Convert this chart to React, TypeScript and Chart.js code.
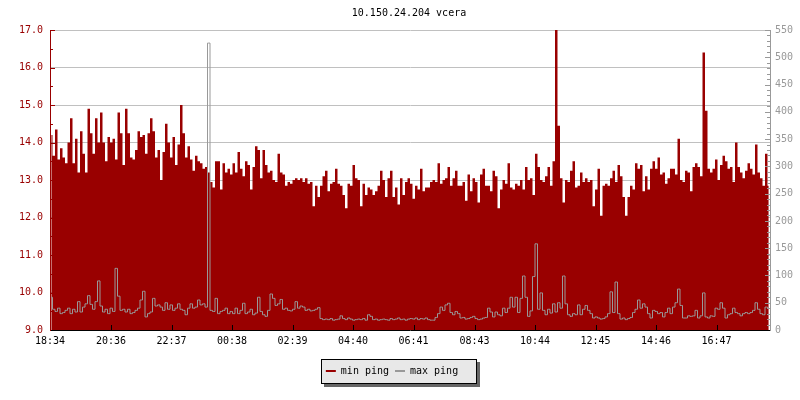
import { useEffect, useRef } from 'react';
import { Chart, registerables } from 'chart.js';

Chart.register(...registerables);

const chartTitle = '10.150.24.204 vcera';
const seriesNames = ['min ping', 'max ping'];
const tickLabels = ['18:34', '20:36', '22:37', '00:38', '02:39', '04:40', '06:41', '08:43', '10:44', '12:45', '14:46', '16:47'];
const sampleStepMinutes = 5;

// min ping (ms), left axis, one value per 5 minutes starting 18:34
const minPing = [
  14.2, 13.65, 14.35, 13.55, 13.85, 13.6, 13.45, 14.0, 14.65, 13.45, 14.1, 13.2,
  14.3, 13.7, 13.2, 14.9, 14.25, 13.7, 14.65, 14.0, 14.8, 14.0, 13.5, 14.15,
  14.0, 14.1, 13.55, 14.8, 14.25, 13.4, 14.9, 14.25, 13.6, 13.55, 13.8, 14.3,
  14.15, 14.2, 13.7, 14.25, 14.65, 14.3, 13.6, 13.8, 13.0, 13.75, 14.5, 14.0,
  13.6, 14.15, 13.4, 13.95, 15.0, 14.25, 13.6, 13.9, 13.55, 13.25, 13.65, 13.5,
  13.45, 13.3, 13.35, 13.2, 12.95, 12.8, 13.5, 13.5, 12.75, 13.45, 13.2, 13.3,
  13.15, 13.45, 13.2, 13.75, 13.3, 13.1, 13.5, 13.4, 12.75, 13.35, 13.9, 13.8,
  13.05, 13.8, 13.4, 13.2, 13.25, 13.0, 12.95, 13.7, 13.2, 13.15, 12.85, 12.95,
  12.9, 13.0, 13.05, 13.0, 13.05, 12.95, 13.05, 12.9, 12.95, 12.3, 12.85, 12.55,
  12.85, 13.1, 13.25, 12.7, 12.9, 12.95, 13.3, 12.9, 12.85, 12.6, 12.25, 12.9,
  12.85, 13.4, 13.05, 13.0, 12.3, 12.9, 12.6, 12.8, 12.75, 12.6, 12.7, 12.85,
  13.25, 13.0, 12.55, 13.05, 13.25, 12.55, 12.8, 12.35, 13.05, 12.6, 12.95, 13.05,
  12.9, 12.5, 12.85, 12.75, 13.3, 12.7, 12.8, 12.8, 12.95, 13.0, 12.95, 13.45,
  12.9, 13.0, 13.05, 13.35, 12.85, 13.05, 13.25, 12.85, 12.85, 12.95, 12.45, 13.15,
  12.7, 13.05, 12.95, 12.4, 13.15, 13.3, 12.85, 12.85, 12.7, 13.25, 13.1, 12.25,
  12.75, 13.0, 12.9, 13.45, 12.8, 12.75, 12.9, 12.85, 13.0, 12.75, 13.35, 13.0,
  13.05, 12.6, 13.7, 13.35, 13.0, 12.95, 13.1, 13.35, 12.85, 13.5, 17.0, 14.45,
  13.05, 12.4, 13.0, 12.95, 13.25, 13.5, 12.8, 12.85, 13.2, 12.95, 13.05, 12.95,
  13.0, 12.3, 12.75, 13.3, 12.05, 12.85, 12.9, 12.85, 13.05, 13.25, 12.95, 13.4,
  13.1, 12.55, 12.05, 12.55, 12.85, 12.75, 13.45, 13.3, 13.4, 12.7, 13.1, 12.75,
  13.3, 13.5, 13.3, 13.6, 13.15, 13.2, 12.9, 13.05, 13.3, 13.3, 13.15, 14.1,
  13.0, 12.95, 13.25, 13.2, 12.7, 13.35, 13.45, 13.35, 13.1, 16.4, 14.85, 13.3,
  13.2, 13.3, 13.55, 13.0, 13.4, 13.65, 13.5, 13.3, 13.35, 12.95, 14.0, 13.35,
  13.2, 13.05, 13.25, 13.45, 13.3, 13.15, 13.95, 13.2, 13.05, 12.85, 13.7, 12.85,
];

// max ping (ms), right axis, same sample times
const maxPing = [
  60, 38, 34, 40, 30, 32, 36, 40, 30, 38, 33, 52,
  33, 42, 48, 63, 47, 38, 52, 90, 44, 33, 38, 30,
  40, 34, 113, 62, 36, 38, 33, 38, 30, 32, 36, 40,
  55, 71, 24, 30, 33, 58, 44, 46, 42, 36, 50, 38,
  46, 36, 40, 48, 38, 36, 28, 40, 48, 40, 42, 55,
  46, 48, 42, 526, 36, 34, 58, 30, 34, 36, 40, 30,
  34, 30, 40, 30, 36, 49, 30, 33, 38, 28, 31, 60,
  34, 28, 25, 36, 66, 58, 45, 48, 56, 38, 40, 36,
  35, 38, 52, 40, 44, 42, 36, 38, 35, 36, 38, 41,
  21, 19, 20, 19, 21, 18, 19, 20, 26, 21, 19, 22,
  20, 18, 19, 20, 19, 21, 18, 28, 25, 19, 20, 18,
  19, 20, 19, 18, 21, 19, 20, 22, 19, 20, 18, 20,
  21, 20, 22, 19, 21, 20, 22, 19, 18, 18, 23, 30,
  42, 36, 46, 49, 32, 28, 34, 30, 22, 23, 20, 21,
  23, 25, 21, 19, 20, 22, 23, 40, 33, 24, 33, 28,
  26, 40, 32, 40, 60, 42, 60, 32, 58, 99, 60, 25,
  35, 98, 158, 38, 68, 36, 28, 38, 31, 48, 33, 50,
  40, 99, 48, 28, 25, 30, 28, 46, 28, 38, 45, 36,
  30, 22, 24, 22, 20, 21, 24, 30, 70, 32, 88, 30,
  20, 22, 19, 21, 23, 32, 38, 55, 40, 48, 42, 30,
  22, 36, 34, 30, 32, 24, 32, 40, 30, 42, 50, 75,
  45, 22, 22, 26, 25, 26, 36, 22, 26, 68, 24, 22,
  26, 25, 40, 38, 50, 40, 22, 28, 30, 40, 32, 30,
  26, 30, 32, 30, 32, 36, 50, 38, 30, 28, 42, 40,
];

const FONT = "'DejaVu Sans Mono', 'Liberation Mono', monospace";
const RED = '#990000';
const GREY = '#999999';

const toMinutes = (s: string) => {
  const [h, m] = s.split(':').map(Number);
  return h * 60 + m;
};

const tickMarksPlugin = {
  id: 'tickMarks',
  afterDatasetsDraw(chart: any) {
    const ctx = chart.ctx;
    const { left, right, bottom } = chart.chartArea;
    ctx.save();
    ctx.lineWidth = 1;
    const y = chart.scales.y;
    ctx.strokeStyle = RED;
    y.ticks.forEach((t: any) => {
      const p = Math.round(y.getPixelForValue(t.value)) + 0.5;
      const len = Number.isInteger(t.value) ? 5 : 3;
      ctx.beginPath();
      ctx.moveTo(left, p);
      ctx.lineTo(left + len, p);
      ctx.stroke();
    });
    const y1 = chart.scales.y1;
    ctx.strokeStyle = GREY;
    y1.ticks.forEach((t: any) => {
      const p = Math.round(y1.getPixelForValue(t.value)) + 0.5;
      const len = t.value % 50 === 0 ? 5 : 3;
      ctx.beginPath();
      ctx.moveTo(right - len, p);
      ctx.lineTo(right, p);
      ctx.stroke();
    });
    const x = chart.scales.x;
    ctx.strokeStyle = '#000';
    x.ticks.forEach((t: any) => {
      const p = Math.round(x.getPixelForValue(t.value)) + 0.5;
      ctx.beginPath();
      ctx.moveTo(p, bottom);
      ctx.lineTo(p, bottom - 5);
      ctx.stroke();
    });
    ctx.restore();
  },
};

const shiftBlocksPlugin = {
  id: 'shiftBlocks',
  afterLayout(chart: any) {
    const t = chart.titleBlock;
    if (t) {
      t.left += 9;
      t.right += 9;
    }
    const l = chart.legend;
    if (l) {
      l.left -= 8;
      l.right -= 8;
    }
  },
};

const legendBoxPlugin = {
  id: 'legendBox',
  beforeDraw(chart: any) {
    const lg = chart.legend;
    const hb = lg && lg.legendHitBoxes;
    if (!hb || !hb.length) return;
    const first = hb[0];
    const last = hb[hb.length - 1];
    const x0 = Math.round(first.left) - 5;
    const x1 = Math.round(last.left + last.width) + 18;
    const y0 = Math.round(first.top) - 7;
    const y1 = Math.round(first.top + first.height) + 7;
    const ctx = chart.ctx;
    ctx.save();
    ctx.fillStyle = '#666666';
    ctx.fillRect(x0 + 3, y0 + 3, x1 - x0 + 1, y1 - y0 + 1);
    ctx.fillStyle = '#e8e8e8';
    ctx.fillRect(x0, y0, x1 - x0 + 1, y1 - y0 + 1);
    ctx.strokeStyle = '#000';
    ctx.lineWidth = 1;
    ctx.strokeRect(x0 + 0.5, y0 + 0.5, x1 - x0, y1 - y0);
    ctx.restore();
  },
};

export default function App() {
  const canvasRef = useRef<HTMLCanvasElement>(null);

  useEffect(() => {
    document.body.style.margin = '0';
    const canvas = canvasRef.current;
    if (!canvas) return;

    const start = toMinutes(tickLabels[0]);
    const tickMinutes = tickLabels.map((l) => (toMinutes(l) - start + 1440) % 1440);
    const sampleMinutes = minPing.map((_, i) => i * sampleStepMinutes + sampleStepMinutes / 2);
    const spanMinutes = minPing.length * sampleStepMinutes;
    const font = { family: FONT, size: 10, weight: 'normal' as const, lineHeight: 1.2 };

    const chart = new Chart(canvas, {
      type: 'line',
      data: {
        datasets: [
          {
            label: seriesNames[0],
            data: minPing.map((v, i) => ({ x: sampleMinutes[i], y: v })),
            backgroundColor: RED,
            borderColor: RED,
            borderWidth: 0,
            pointRadius: 0,
            stepped: 'middle',
            fill: 'start',
            xAxisID: 'x',
            yAxisID: 'y',
            order: 1,
          } as any,
          {
            label: seriesNames[1],
            data: maxPing.map((v, i) => ({ x: sampleMinutes[i], y: v })),
            borderColor: GREY,
            backgroundColor: GREY,
            borderWidth: 1,
            pointRadius: 0,
            stepped: 'middle',
            fill: false,
            xAxisID: 'x',
            yAxisID: 'y1',
            order: 0,
          } as any,
        ],
      },
      options: {
        animation: false,
        responsive: false,
        devicePixelRatio: 1,
        events: [],
        layout: { padding: { top: 0, left: 0, right: 0, bottom: 14 } },
        plugins: {
          title: {
            display: true,
            text: chartTitle,
            color: '#000',
            font,
            padding: { top: 7, bottom: 11 },
          },
          legend: {
            display: true,
            position: 'bottom',
            align: 'center',
            labels: {
              boxWidth: 10,
              boxHeight: 2,
              padding: 6,
              color: '#000',
              font,
              generateLabels: () => [
                { text: seriesNames[0], fillStyle: RED, strokeStyle: RED, lineWidth: 0, hidden: false, datasetIndex: 0 },
                { text: seriesNames[1], fillStyle: GREY, strokeStyle: GREY, lineWidth: 0, hidden: false, datasetIndex: 1 },
              ],
            },
          },
          tooltip: { enabled: false },
        },
        scales: {
          x: {
            type: 'linear',
            min: 0,
            max: spanMinutes,
            offset: false,
            afterFit: (s: any) => {
              s.height = 30;
            },
            afterBuildTicks: (s: any) => {
              s.ticks = tickMinutes.map((v) => ({ value: v }));
            },
            ticks: {
              autoSkip: false,
              maxRotation: 0,
              minRotation: 0,
              color: '#000',
              font,
              padding: 5,
              callback: (_v: any, i: number) => tickLabels[i],
            },
            grid: { display: false, drawTicks: false },
            border: { display: true, color: '#000', width: 1, z: 1 },
          },
          y: {
            type: 'linear',
            position: 'left',
            min: 9,
            max: 17,
            afterFit: (s: any) => {
              s.width = 50;
            },
            ticks: {
              stepSize: 0.5,
              autoSkip: false,
              color: RED,
              font,
              padding: 7,
              callback: (v: any) => (Number.isInteger(v) ? Number(v).toFixed(1) : ''),
            },
            grid: {
              drawTicks: false,
              lineWidth: 1,
              color: (c: any) =>
                c.tick && Number.isInteger(c.tick.value) && c.tick.value > 9 ? '#c0c0c0' : 'rgba(0,0,0,0)',
            },
            border: { display: true, color: RED, width: 1, z: 1 },
          },
          y1: {
            type: 'linear',
            position: 'right',
            min: 0,
            max: 550,
            afterFit: (s: any) => {
              s.width = 30;
            },
            ticks: {
              stepSize: 10,
              autoSkip: false,
              color: GREY,
              font,
              padding: 5,
              callback: (v: any) => (v % 50 === 0 ? String(v) : ''),
            },
            grid: { drawOnChartArea: false, drawTicks: false },
            border: { display: true, color: GREY, width: 1, z: 1 },
          },
        },
      } as any,
      plugins: [shiftBlocksPlugin, legendBoxPlugin, tickMarksPlugin],
    });

    return () => {
      chart.destroy();
    };
  }, []);

  return (
    <div style={{ position: 'absolute', left: 0, top: 0, width: 800, height: 400 }}>
      <canvas ref={canvasRef} width={800} height={400} style={{ display: 'block' }} />
    </div>
  );
}
